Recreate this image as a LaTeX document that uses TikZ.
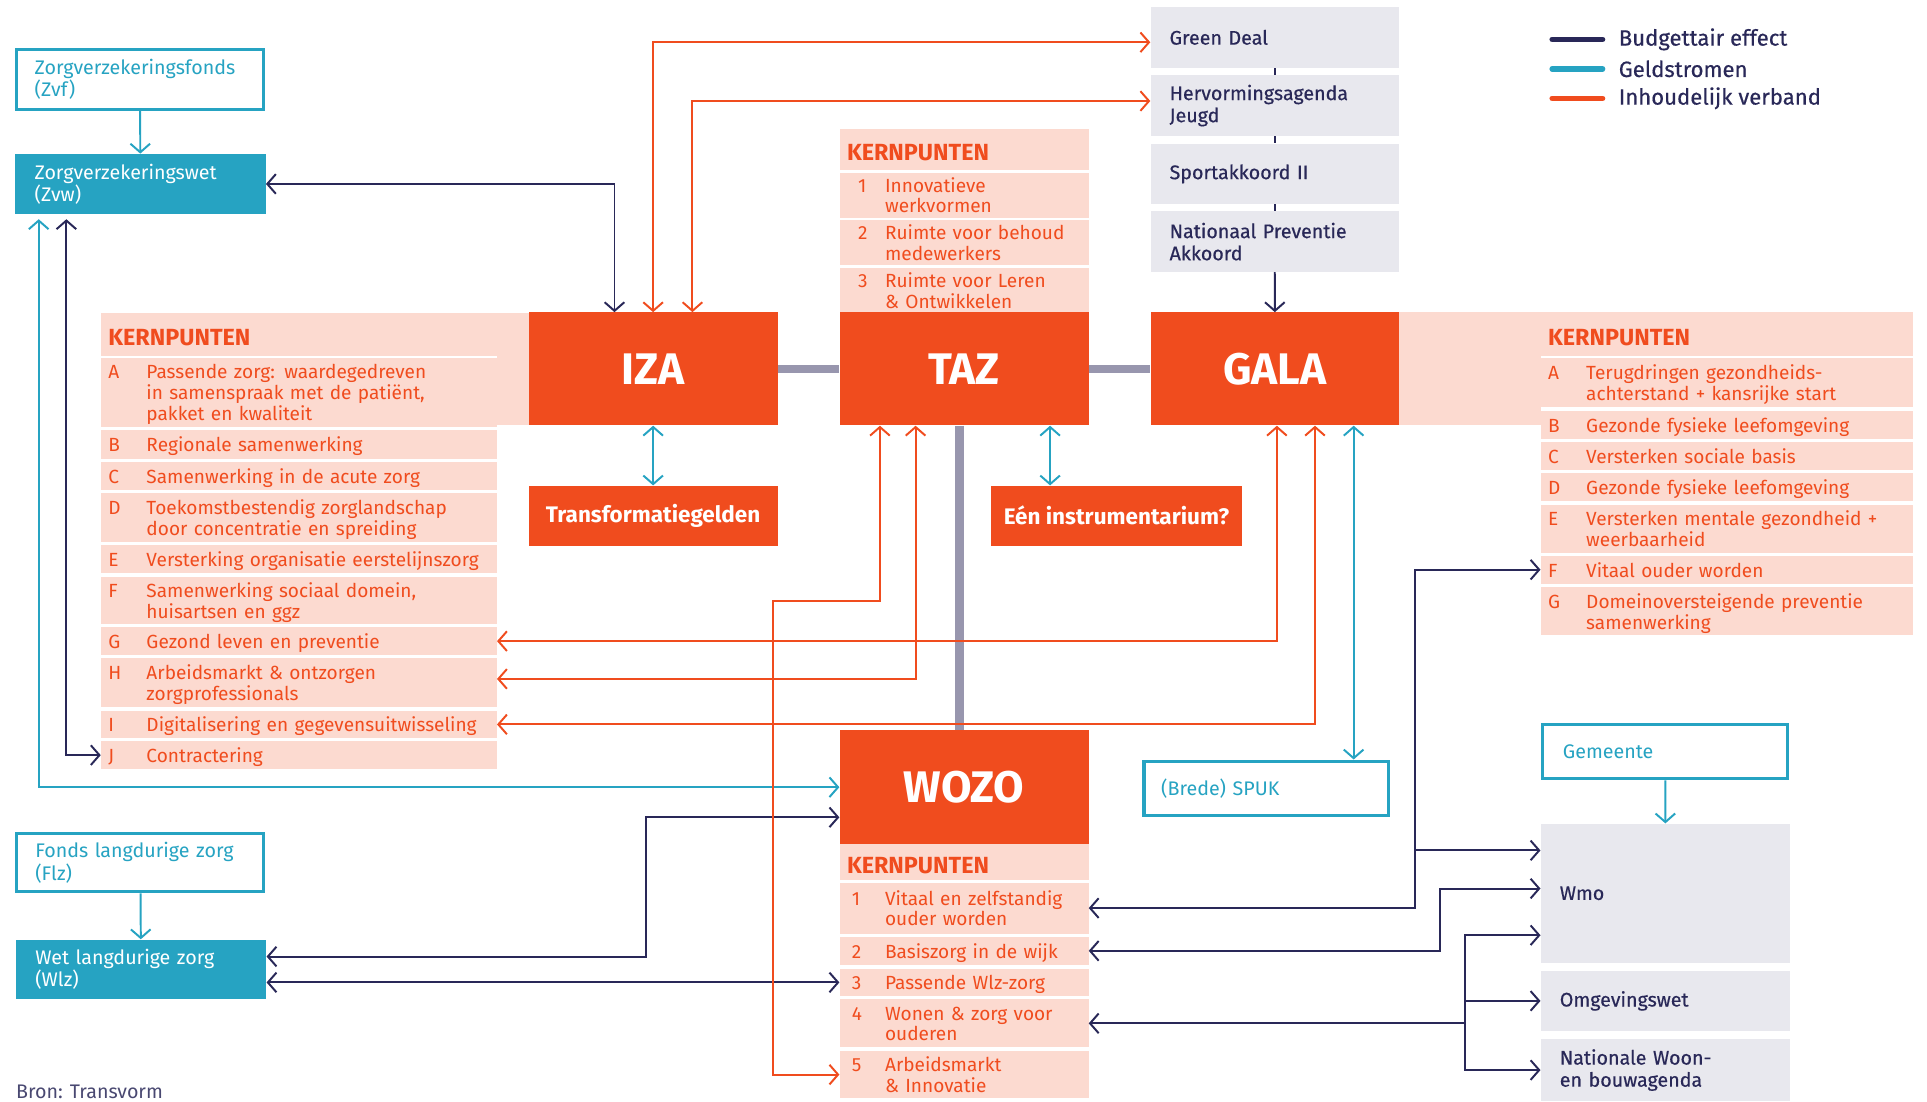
\documentclass[tikz,border=0pt]{standalone}
\usepackage{fontspec}
\setmainfont{Fira Sans}
\newfontfamily\medium{Fira Sans}[FakeBold=0.5]
\usetikzlibrary{arrows.meta,calc}
\definecolor{oranje}{RGB}{240,76,30}
\definecolor{roze}{RGB}{252,218,208}
\definecolor{blauw}{RGB}{38,163,194}
\definecolor{donker}{RGB}{41,40,88}
\definecolor{grijs}{RGB}{232,232,238}
\definecolor{balk}{RGB}{152,150,174}
\newcommand\lijst{\fontsize{15.5}{16.5}\selectfont}
\newcommand\vak{\fontsize{16}{18}\selectfont}
\newcommand\kp[2]{\raisebox{-2.5pt}[\height][\depth]{\begin{tabular}{@{}p{31pt}@{}l@{}}#1&#2\end{tabular}}}
\newcommand\kopje{\raisebox{-2.5pt}[\height][\depth]{KERNPUNTEN}}
\begin{document}
\begin{tikzpicture}[x=1pt, y=-1pt,
    >={Straight Barb[length=7pt,width=16pt]},
    lijn/.style={line width=1.6pt},
    budget/.style={lijn, draw=donker},
    geld/.style={lijn, draw=blauw},
    inhoud/.style={lijn, draw=oranje},
    staaf/.style={draw=balk, line width=7pt},
    hoofdblok/.style={fill=oranje, text=white, font=\bfseries\fontsize{36}{40}\selectfont, anchor=north west, inner sep=0pt, minimum width=202.5pt, minimum height=92pt},
    subblok/.style={fill=oranje, text=white, font=\bfseries\fontsize{18.3}{20}\selectfont, anchor=north west, inner sep=0pt, minimum height=49pt},
    kern/.style={fill=roze, text=oranje, anchor=north west, align=left, inner xsep=6pt, inner ysep=0pt, font=\lijst},
    izarij/.style={kern, text width=310pt},
    galarij/.style={kern, text width=290.5pt},
    tazrij/.style={kern, text width=190.5pt},
    kop/.style={font=\bfseries\fontsize{19}{20}\selectfont},
    fonds/.style={draw=blauw, line width=2.5pt, fill=white, text=blauw, anchor=north west, align=left, inner xsep=15pt, inner ysep=0pt, font=\vak},
    wetblok/.style={fill=blauw, text=white, anchor=north west, align=left, inner xsep=16pt, inner ysep=0pt, text width=172pt, font=\vak},
    grijsblok/.style={fill=grijs, text=donker, anchor=north west, align=left, inner xsep=15.5pt, inner ysep=0pt, text width=171pt, font=\medium\vak}]
\useasboundingbox (0,0) rectangle (1568,896);

\fill[roze] (404,254.5) rectangle (431,346);
\fill[roze] (1137,254) rectangle (1254,346);

\node[hoofdblok] (iza) at (430,254) {IZA};
\node[hoofdblok] (taz) at (683,254) {TAZ};
\node[hoofdblok] (gala) at (936,254) {GALA};
\node[hoofdblok, minimum height=92.7pt] (wozo) at (683,594) {WOZO};
\node[subblok, minimum width=202.5pt] (transf) at (430,395) {Transformatiegelden};
\node[subblok, minimum width=203.5pt] (een) at (806.5,395) {Eén instrumentarium?};

\node[izarij, kop, minimum height=35pt] (izakop) at (82,254.5) {\kopje};
\node[izarij, minimum height=55.5pt] (izaA) at (82,291.5) {\kp{A}{Passende zorg: waardegedreven\\&in samenspraak met de patiënt,\\&pakket en kwaliteit}};
\node[izarij, minimum height=23pt] (izaB) at (82,350) {\kp{B}{Regionale samenwerking}};
\node[izarij, minimum height=22.5pt] (izaC) at (82,376) {\kp{C}{Samenwerking in de acute zorg}};
\node[izarij, minimum height=39.5pt] (izaD) at (82,401) {\kp{D}{Toekomstbestendig zorglandschap\\&door concentratie en spreiding}};
\node[izarij, minimum height=23pt] (izaE) at (82,443) {\kp{E}{Versterking organisatie eerstelijnszorg}};
\node[izarij, minimum height=38.5pt] (izaF) at (82,469) {\kp{F}{Samenwerking sociaal domein,\\&huisartsen en ggz}};
\node[izarij, minimum height=23pt] (izaG) at (82,510) {\kp{G}{Gezond leven en preventie}};
\node[izarij, minimum height=39.5pt] (izaH) at (82,535.5) {\kp{H}{Arbeidsmarkt \& ontzorgen\\&zorgprofessionals}};
\node[izarij, minimum height=22.5pt] (izaI) at (82,578) {\kp{I}{Digitalisering en gegevensuitwisseling}};
\node[izarij, minimum height=22.5pt] (izaJ) at (82,603) {\kp{J}{Contractering}};

\node[tazrij, kop, minimum height=33.3pt] (tazkop) at (683,105) {\kopje};
\node[tazrij, minimum height=36.3pt] (taz1) at (683,140.5) {\kp{\hspace*{9pt}1}{Innovatieve\\&werkvormen}};
\node[tazrij, minimum height=36.6pt] (taz2) at (683,179) {\kp{\hspace*{9pt}2}{Ruimte voor behoud\\&medewerkers}};
\node[tazrij, minimum height=36.2pt] (taz3) at (683,217.8) {\kp{\hspace*{9pt}3}{Ruimte voor Leren\\&\& Ontwikkelen}};

\node[galarij, kop, minimum height=35.5pt] (galakop) at (1253.5,254) {\kopje};
\node[galarij, minimum height=39.5pt] (galaA) at (1253.5,291.5) {\kp{A}{Terugdringen gezondheids-\\&achterstand + kansrijke start}};
\node[galarij, minimum height=22.7pt] (galaB) at (1253.5,334) {\kp{B}{Gezonde fysieke leefomgeving}};
\node[galarij, minimum height=22.6pt] (galaC) at (1253.5,359.4) {\kp{C}{Versterken sociale basis}};
\node[galarij, minimum height=23pt] (galaD) at (1253.5,384.6) {\kp{D}{Gezonde fysieke leefomgeving}};
\node[galarij, minimum height=39pt] (galaE) at (1253.5,410.4) {\kp{E}{Versterken mentale gezondheid +\\&weerbaarheid}};
\node[galarij, minimum height=22.7pt] (galaF) at (1253.5,452) {\kp{F}{Vitaal ouder worden}};
\node[galarij, minimum height=39.3pt] (galaG) at (1253.5,477.4) {\kp{G}{Domeinoversteigende preventie\\&samenwerking}};

\node[tazrij, kop, minimum height=29.3pt] (wozokop) at (683,686.7) {\kopje};
\node[tazrij, minimum height=41.4pt] (wozo1) at (683,718) {\kp{\hspace*{4pt}1}{Vitaal en zelfstandig\\&ouder worden}};
\node[tazrij, minimum height=23pt] (wozo2) at (683,762) {\kp{\hspace*{4pt}2}{Basiszorg in de wijk}};
\node[tazrij, minimum height=22.4pt] (wozo3) at (683,788) {\kp{\hspace*{4pt}3}{Passende Wlz-zorg}};
\node[tazrij, minimum height=39pt] (wozo4) at (683,813) {\kp{\hspace*{4pt}4}{Wonen \& zorg voor\\&ouderen}};
\node[tazrij, minimum height=38.4pt] (wozo5) at (683,855) {\kp{\hspace*{4pt}5}{Arbeidsmarkt\\&\& Innovatie}};

\node[grijsblok, minimum height=49.6pt] (greendeal) at (936,5.4) {Green Deal};
\node[grijsblok, minimum height=49.4pt] (herv) at (936,61) {Hervormingsagenda\\Jeugd};
\node[grijsblok, minimum height=49.4pt] (sport) at (936,116.6) {Sportakkoord II};
\node[grijsblok, minimum height=49.4pt] (npa) at (936,171.7) {Nationaal Preventie\\Akkoord};
\node[grijsblok, text width=172pt, minimum height=113.3pt] (wmo) at (1253.5,670) {Wmo};
\node[grijsblok, text width=172pt, minimum height=49.5pt] (omgeving) at (1253.5,789.5) {Omgevingswet};
\node[grijsblok, text width=172pt, minimum height=51pt] (woon) at (1253.5,845) {Nationale Woon-\\en bouwagenda};

\node[fonds, text width=171.5pt, minimum height=48.5pt] (zvf) at (12,39) {Zorgverzekeringsfonds\\(Zvf)};
\node[wetblok, minimum height=49pt] (zvw) at (12,125) {Zorgverzekeringswet\\(Zvw)};
\node[fonds, text width=171pt, minimum height=47.5pt] (flz) at (12.5,677) {Fonds langdurige zorg\\(Flz)};
\node[wetblok, minimum height=48.7pt] (wlz) at (12.5,764.3) {Wet langdurige zorg\\(Wlz)};
\node[fonds, inner xsep=16.5pt, text width=166.5pt, minimum height=44.5pt] (gemeente) at (1254,588) {Gemeente};
\node[fonds, inner xsep=14pt, text width=171pt, minimum height=44.5pt] (spuk) at (929.6,618) {(Brede) SPUK};

\foreach \kl/\tekst [count=\i] in {donker/Budgettair effect, blauw/Geldstromen, oranje/Inhoudelijk verband} {
  \draw[\kl, line width=4.5pt, line cap=round] (1263,8+24*\i) -- (1304,8+24*\i);
  \node[anchor=west, inner sep=0pt, text=donker, font=\medium\fontsize{18}{20}\selectfont] (leg\i) at (1317,8+24*\i) {\tekst};
}
\node[anchor=base west, inner sep=0pt, text=donker!85, font=\vak] (bron) at (13,894) {Bron: Transvorm};

\draw[staaf] (iza) -- (taz);
\draw[staaf] (taz) -- (gala);
\draw[staaf] ($(taz.south)+(-3.5,0)$) -- ($(wozo.north)+(-3.5,0)$);

\draw[geld,->] (zvf) -- (zvw);
\draw[geld,->] (flz) -- (wlz);
\draw[geld,->] (gemeente) -- (wmo);
\draw[geld,<->,shorten <=4pt] ($(zvw.south west)+(19.5,0)$) |- (wozo.west);
\draw[geld,<->] (iza) -- (transf);
\coordinate (t1) at ($(taz.south)+(70,0)$);
\draw[geld,<->] (t1) -- (t1 |- een.north);
\coordinate (g1) at ($(gala.south)+(64,0)$);
\draw[geld,<->] (g1) -- (g1 |- spuk.north);

\draw[budget,<->] (zvw.east) -| ($(iza.north west)+(70,0)$);
\draw[budget,<->,shorten <=4pt] ($(zvw.south west)+(42,0)$) |- (izaJ.west);
\draw[budget] (greendeal) -- (herv);
\draw[budget] (herv) -- (sport);
\draw[budget] (sport) -- (npa);
\draw[budget,->] (npa) -- (gala);
\coordinate (knikF) at ($(galaF.west)+(-102.5,0)$);
\draw[budget,<->] (wozo1.east) -| (knikF) -- (galaF.west);
\coordinate (wmo1) at ($(wmo.north west)+(0,22)$);
\draw[budget,->] (knikF |- wmo1) -- (wmo1);
\coordinate (wmo2) at ($(wmo.north west)+(0,53)$);
\draw[budget,<->] (wozo2.east) -| ($(wmo2)+(-81.5,0)$) -- (wmo2);
\coordinate (wmo3) at ($(wmo.north west)+(0,91)$);
\coordinate (knik4) at ($(wozo4.east)+(306,0)$);
\draw[budget,<-] (wozo4.east) -- (knik4);
\draw[budget,->] (knik4) |- (wmo3);
\draw[budget,->] (knik4) |- (omgeving.west);
\draw[budget,->] (knik4) |- (woon.west);
\coordinate (wozoin) at ($(wozo.west)+(0,24.5)$);
\draw[budget,<->] ($(wlz.east)+(0,-10.5)$) -| ($(wozoin)+(-157,0)$) -- (wozoin);
\draw[budget,<->] (wlz.east |- wozo3.west) -- (wozo3.west);

\draw[inhoud,<->] (iza.north) |- ($(greendeal.west)+(0,4)$);
\draw[inhoud,<->] ($(iza.north)+(32,0)$) |- ($(herv.west)+(0,-3.7)$);
\draw[inhoud,<->] ($(taz.south west)+(33,0)$) -- ++(0,143) -| ($(wozo5.west)+(-54,0)$) -- (wozo5.west);
\draw[inhoud,<->] ($(taz.south west)+(62,0)$) |- ($(izaH.east)+(0,-3)$);
\draw[inhoud,<->] ($(gala.south west)+(103,0)$) |- (izaG.east);
\draw[inhoud,<->] ($(gala.south west)+(134,0)$) |- (izaI.east);
\end{tikzpicture}
\end{document}
